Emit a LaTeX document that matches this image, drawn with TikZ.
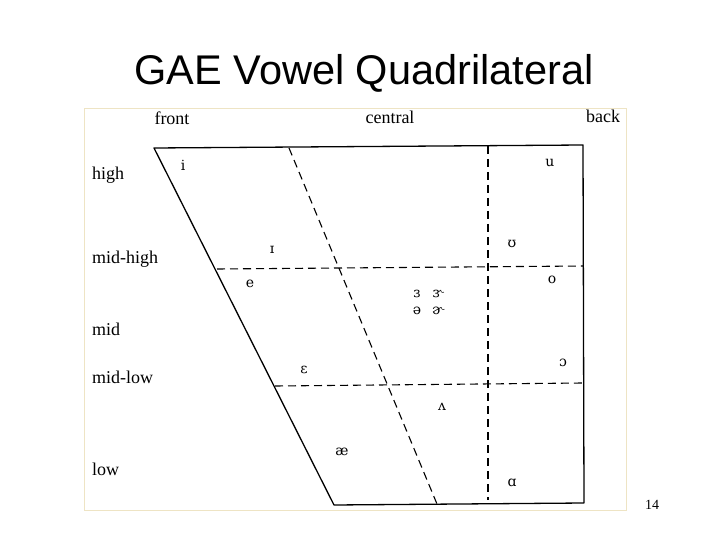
\documentclass[tikz,border=0pt]{standalone}
\usepackage{fontspec}
\setmainfont{Liberation Serif}
\newfontfamily\titlefont{Liberation Sans}
\newfontfamily\ipafont{DejaVu Serif}
\usetikzlibrary{calc}
\definecolor{framecol}{RGB}{238,228,196}
\tikzset{
  quadline/.style={line width=1.3pt,black},
  divline/.style={line width=1.1pt,black,dash pattern=on 8pt off 5pt},
  axislabel/.style={inner sep=0pt,font=\fontsize{18}{18}\selectfont},
  vowel/.style={inner sep=0pt,font=\ipafont\fontsize{14}{14}\selectfont},
}
\begin{document}
\begin{tikzpicture}[x=1pt,y=-1pt]
\useasboundingbox (0,0) rectangle (720,540);
\fill[white] (0,0) rectangle (720,540);
\node[inner sep=0pt,anchor=base,font=\titlefont\fontsize{41.5}{41.5}\selectfont] (title) at (364,85) {GAE Vowel Quadrilateral};
\draw[framecol,line width=0.8pt] (84,108) rectangle (626,510);
\node[inner sep=0pt,anchor=base,font=\fontsize{14}{14}\selectfont] (page) at (652,509) {14};
% corners
\coordinate (tl) at (154,148);
\coordinate (tr) at (583,145);
\coordinate (br) at (584,503);
\coordinate (bl) at (334,505);
\coordinate (mhl) at (217,269);
\coordinate (mhr) at (583,266);
\coordinate (mll) at (275,386);
\coordinate (mlr) at (583,383);
\coordinate (vt) at (488,146);
\coordinate (vb) at (488,500);
\coordinate (dt) at (289,148);
\coordinate (db) at (437,504);
\draw[quadline,line join=round] (tl) -- (tr) -- (br) -- (bl) -- cycle;
\draw[divline] (mhl) -- (mhr);
\draw[divline] (mll) -- (mlr);
\draw[divline] (vt) -- (vb);
\draw[divline] (dt) -- (db);
% axis labels
\node[axislabel] (front) at (172,118) {front};
\node[axislabel] (central) at (390,117) {central};
\node[axislabel] (back) at (603,116) {back};
\node[axislabel,anchor=west] (high) at (92,175) {high};
\node[axislabel,anchor=west] (midhigh) at (92,259) {mid-high};
\node[axislabel,anchor=west] (mid) at (92,329) {mid};
\node[axislabel,anchor=west] (midlow) at (92,377) {mid-low};
\node[axislabel,anchor=west] (low) at (92,469) {low};
% vowels
\node[vowel] (vi) at (183,165) {i};
\node[vowel] (vI) at (272,250) {ɪ};
\node[vowel] (vu) at (550,163) {u};
\node[vowel] (vU) at (512,244) {ʊ};
\node[vowel] (ve) at (250,284) {e};
\node[vowel] (vo) at (552,280) {o};
\node[vowel] (v3) at (417,294) {ɜ};
\node[vowel] (v3r) at (438,294) {ɝ};
\node[vowel] (vschwa) at (417,311) {ə};
\node[vowel] (vschwar) at (438,311) {ɚ};
\node[vowel] (veps) at (304,370) {ɛ};
\node[vowel] (vopen) at (563,363) {ɔ};
\node[vowel] (vwedge) at (442,407) {ʌ};
\node[vowel] (vae) at (342,452) {æ};
\node[vowel] (va) at (512,483) {ɑ};
\end{tikzpicture}
\end{document}
